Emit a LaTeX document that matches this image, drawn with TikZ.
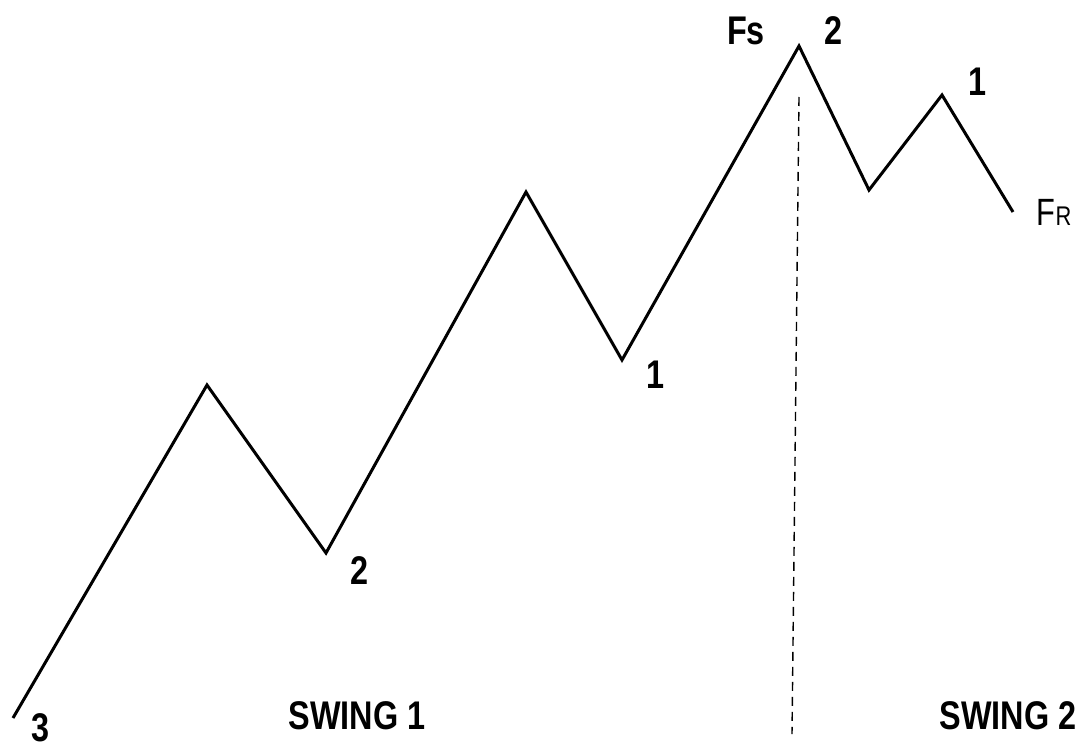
\documentclass[tikz,border=0pt]{standalone}
\usepackage{fontspec}
\setmainfont{Liberation Sans}
\newfontfamily\lblfont[FakeStretch=0.81]{Liberation Sans}
\begin{document}
\begin{tikzpicture}[x=1pt,y=1pt,yscale=-1,xscale=1,
    swing/.style={line width=3pt,line join=miter,line cap=butt},
    divide/.style={line width=1.4pt,dash pattern=on 9pt off 6pt},
    lbl/.style={inner sep=0pt,font=\lblfont\bfseries\fontsize{40}{40}\selectfont}]
        \useasboundingbox (0,0) rectangle (1083,751);
        % turning points
        \coordinate (p0) at (13,718);
        \coordinate (p1) at (207,385);
        \coordinate (p2) at (326,553);
        \coordinate (p3) at (526,192);
        \coordinate (p4) at (622,360);
        \coordinate (p5) at (799,46);
        \coordinate (p6) at (869,190);
        \coordinate (p7) at (942,95);
        \coordinate (p8) at (1013,212);
        \coordinate (dtop) at (799,97);
        \coordinate (dbot) at (792,734);
        \draw [swing] (p0) -- (p1) -- (p2) -- (p3) -- (p4) -- (p5) -- (p6) -- (p7) -- (p8);
        \draw [divide] (dtop) -- (dbot);
        % labels
        \node (l3) [lbl] at (41,728) {3};
        \node (l2a) [lbl] at (360,571) {2};
        \node (l1a) [lbl] at (655,375) {1};
        \node (lfs) [lbl] at (746,31) {Fs};
        \node (l2b) [lbl] at (833,31) {2};
        \node (l1b) [lbl] at (977,82) {1};
        \node (lfr) [lbl,font=\lblfont\fontsize{38}{38}\selectfont] at (1054,212) {F\fontsize{27}{27}\selectfont R};
        \node (sw1) [lbl] at (357,716) {SWING 1};
        \node (sw2) [lbl] at (1008,716) {SWING 2};
\end{tikzpicture}
\end{document}
